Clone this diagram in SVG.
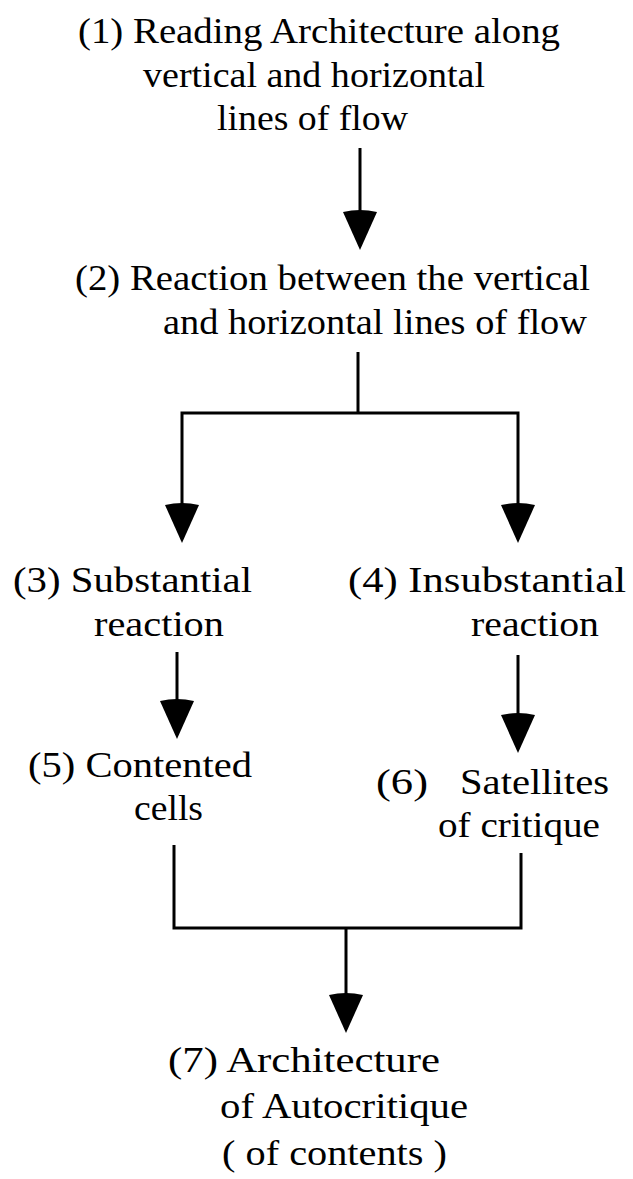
<svg xmlns="http://www.w3.org/2000/svg" width="633" height="1179" viewBox="0 0 633 1179">
  <style>
    .label { font-family: 'Liberation Serif', 'Times New Roman', serif; font-size: 36px; fill: #000; }
    .wire { fill: none; stroke: #000; stroke-width: 3; stroke-linecap: butt; stroke-linejoin: miter; }
    .head { fill: #000; }
  </style>
  <defs>
    <!-- downward arrowhead, tip at the origin, slightly rounded top edge -->
    <path id="arrowhead" class="head" d="M-17,-38 Q0,-42 17,-38 L0,0 Z"/>
  </defs>
  <rect width="633" height="1179" fill="#fff"/>

  <g id="node1" class="label">
    <text x="78" y="43" textLength="482" lengthAdjust="spacingAndGlyphs">(1) Reading Architecture along</text>
    <text x="143" y="87" textLength="342" lengthAdjust="spacingAndGlyphs">vertical and horizontal</text>
    <text x="217" y="130" textLength="191" lengthAdjust="spacingAndGlyphs">lines of flow</text>
  </g>

  <g id="node2" class="label">
    <text x="75" y="290" textLength="515" lengthAdjust="spacingAndGlyphs">(2) Reaction between the vertical</text>
    <text x="163" y="334" textLength="424" lengthAdjust="spacingAndGlyphs">and horizontal lines of flow</text>
  </g>

  <g id="node3" class="label">
    <text x="13" y="592" textLength="239" lengthAdjust="spacingAndGlyphs">(3) Substantial</text>
    <text x="94" y="636" textLength="130" lengthAdjust="spacingAndGlyphs">reaction</text>
  </g>

  <g id="node4" class="label">
    <text x="348" y="592" textLength="278" lengthAdjust="spacingAndGlyphs">(4) Insubstantial</text>
    <text x="471" y="636" textLength="128" lengthAdjust="spacingAndGlyphs">reaction</text>
  </g>

  <g id="node5" class="label">
    <text x="28" y="777" textLength="224" lengthAdjust="spacingAndGlyphs">(5) Contented</text>
    <text x="134" y="820" textLength="69" lengthAdjust="spacingAndGlyphs">cells</text>
  </g>

  <g id="node6" class="label">
    <text x="376" y="794" textLength="52" lengthAdjust="spacingAndGlyphs">(6)</text>
    <text x="460" y="794" textLength="149" lengthAdjust="spacingAndGlyphs">Satellites</text>
    <text x="438" y="837" textLength="162" lengthAdjust="spacingAndGlyphs">of critique</text>
  </g>

  <g id="node7" class="label">
    <text x="168" y="1072" textLength="272" lengthAdjust="spacingAndGlyphs">(7)  Architecture</text>
    <text x="220" y="1118" textLength="248" lengthAdjust="spacingAndGlyphs">of Autocritique</text>
    <text x="222" y="1165" textLength="225" lengthAdjust="spacingAndGlyphs">( of contents )</text>
  </g>

  <g id="connectors">
    <!-- 1 to 2 -->
    <line class="wire" x1="360" y1="148" x2="360" y2="216"/>
    <use href="#arrowhead" x="360" y="250"/>

    <!-- 2 splits to 3 and 4 -->
    <polyline class="wire" points="358,352 358,413"/>
    <polyline class="wire" points="182,506 182,413 518,413 518,506"/>
    <use href="#arrowhead" x="182" y="543"/>
    <use href="#arrowhead" x="518" y="543"/>

    <!-- 3 to 5 -->
    <line class="wire" x1="177" y1="652" x2="177" y2="703"/>
    <use href="#arrowhead" x="177" y="739"/>

    <!-- 4 to 6 -->
    <line class="wire" x1="518" y1="655" x2="518" y2="717"/>
    <use href="#arrowhead" x="518" y="753"/>

    <!-- 5 and 6 join into 7 -->
    <polyline class="wire" points="174,845 174,928 521,928 521,853"/>
    <line class="wire" x1="346" y1="928" x2="346" y2="997"/>
    <use href="#arrowhead" x="346" y="1033"/>
  </g>
</svg>
